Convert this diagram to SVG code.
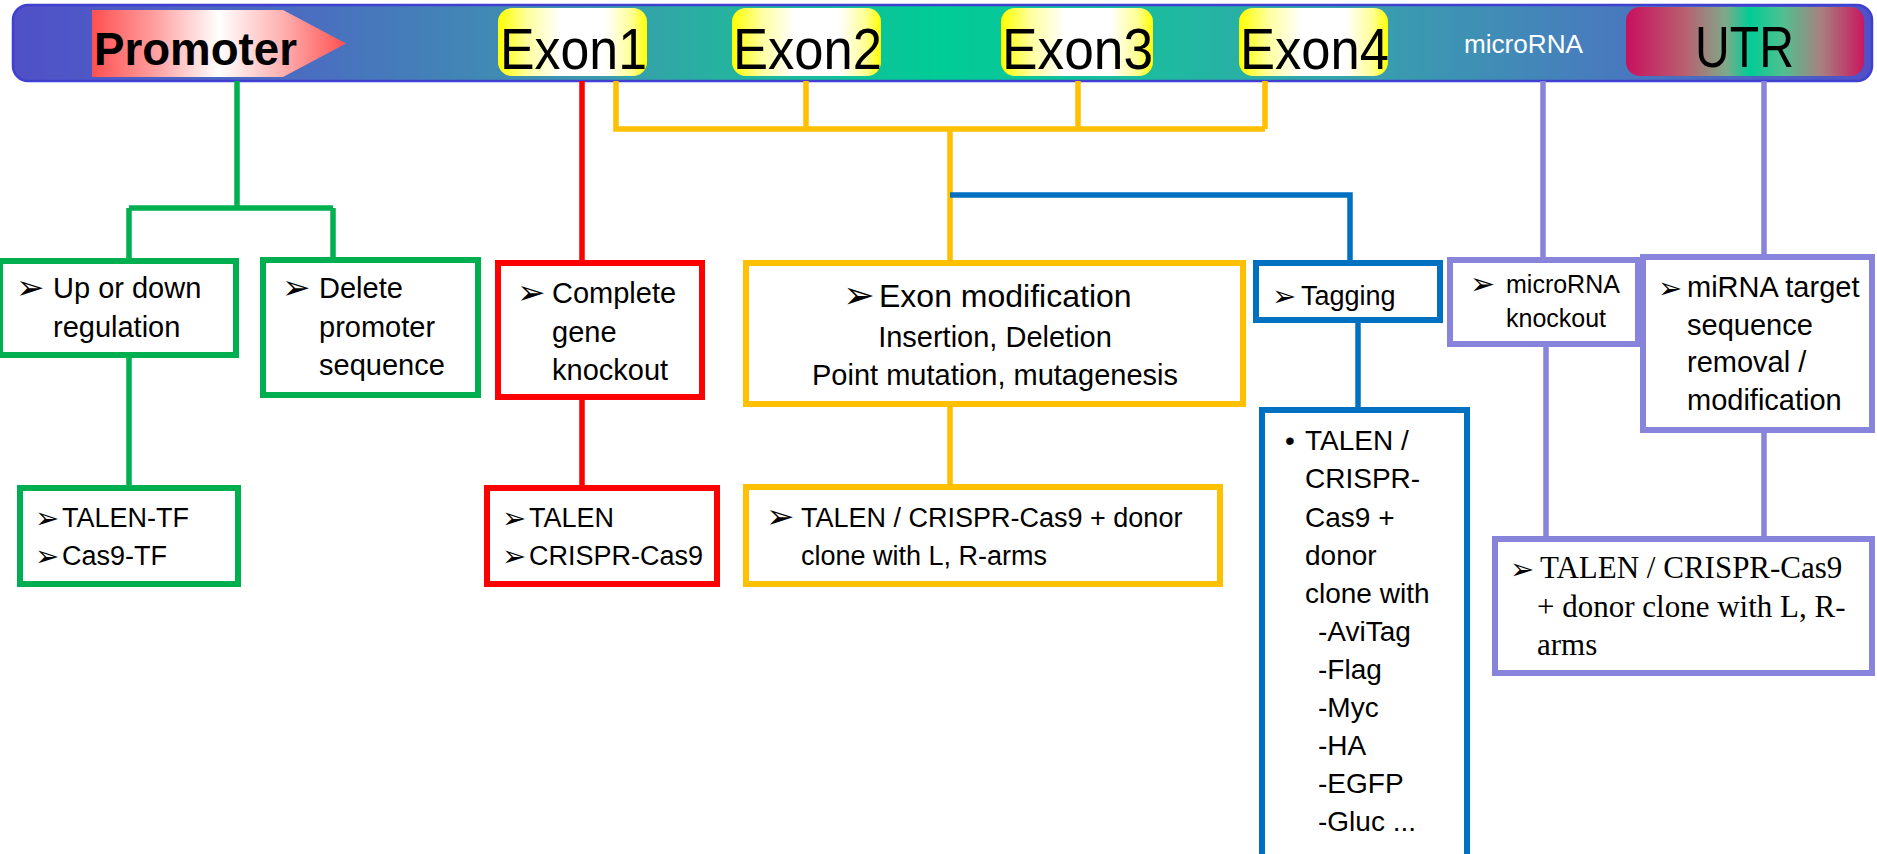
<svg xmlns="http://www.w3.org/2000/svg" width="1877" height="854" viewBox="0 0 1877 854">
<defs>
<linearGradient id="barG" x1="0" y1="0" x2="1" y2="0">
<stop offset="0" stop-color="#5050c8"/>
<stop offset="0.16" stop-color="#4a6ec0"/>
<stop offset="0.32" stop-color="#3a9cac"/>
<stop offset="0.38" stop-color="#26b2a0"/>
<stop offset="0.5" stop-color="#00cc96"/>
<stop offset="0.62" stop-color="#1ebaa0"/>
<stop offset="0.72" stop-color="#36a2ac"/>
<stop offset="0.84" stop-color="#4680bc"/>
<stop offset="0.9" stop-color="#4a6ec0"/>
<stop offset="1" stop-color="#5050c8"/>
</linearGradient>
<linearGradient id="promG" x1="0" y1="0" x2="1" y2="0">
<stop offset="0" stop-color="#ff5050"/>
<stop offset="0.25" stop-color="#ffa0a0"/>
<stop offset="0.5" stop-color="#ffffff"/>
<stop offset="0.75" stop-color="#ffb0b0"/>
<stop offset="1" stop-color="#ff5050"/>
</linearGradient>
<linearGradient id="exonG" x1="0" y1="0" x2="1" y2="0">
<stop offset="0" stop-color="#ffff00"/>
<stop offset="0.2" stop-color="#ffffa0"/>
<stop offset="0.42" stop-color="#ffffff"/>
<stop offset="0.72" stop-color="#ffffff"/>
<stop offset="0.9" stop-color="#ffff90"/>
<stop offset="1" stop-color="#ffff00"/>
</linearGradient>
<linearGradient id="utrG" x1="0" y1="0" x2="1" y2="0">
<stop offset="0" stop-color="#c8105e"/>
<stop offset="0.25" stop-color="#b86070"/>
<stop offset="0.42" stop-color="#7eaa8a"/>
<stop offset="0.52" stop-color="#00cc96"/>
<stop offset="0.66" stop-color="#50c090"/>
<stop offset="0.82" stop-color="#a88080"/>
<stop offset="1" stop-color="#c8185e"/>
</linearGradient>
<style>
.box{fill:#ffffff;stroke-width:6}
.g{stroke:#00b050}.r{stroke:#ff0000}.y{stroke:#ffc000}.b{stroke:#0070c0}.p{stroke:#8884dc}
.cn{fill:none;stroke-width:5.5}
.t{font-family:"Liberation Sans",Arial,sans-serif;fill:#000}
.tm{font-family:"Liberation Serif","Times New Roman",serif;fill:#000}
.ar{font-family:"DejaVu Sans",sans-serif;fill:#000;font-size:34px}
.ars{font-family:"DejaVu Sans",sans-serif;fill:#000;font-size:29px}
.big{font-family:"Liberation Sans",Arial,sans-serif;fill:#000;font-size:57px}
</style>
</defs>

<g id="gene-bar">
<rect x="13" y="5" width="1859" height="76" rx="15" fill="url(#barG)" stroke="#4040d0" stroke-width="2.5"/>
</g>
<g id="promoter">
<polygon points="92,10 283,10 346,43.5 283,77 92,77" fill="url(#promG)"/>
<text x="94" y="65" class="t" font-size="47" font-weight="bold" textLength="203" lengthAdjust="spacingAndGlyphs">Promoter</text>
</g>
<g id="exon1">
<rect x="498" y="8" width="149" height="68" rx="14" fill="url(#exonG)"/>
<text x="500" y="69" class="big" textLength="147" lengthAdjust="spacingAndGlyphs">Exon1</text>
</g>
<g id="exon2">
<rect x="732" y="8" width="149" height="68" rx="14" fill="url(#exonG)"/>
<text x="733" y="69" class="big" textLength="149" lengthAdjust="spacingAndGlyphs">Exon2</text>
</g>
<g id="exon3">
<rect x="1001" y="8" width="152" height="68" rx="14" fill="url(#exonG)"/>
<text x="1002" y="69" class="big" textLength="151" lengthAdjust="spacingAndGlyphs">Exon3</text>
</g>
<g id="exon4">
<rect x="1239" y="8" width="149" height="68" rx="14" fill="url(#exonG)"/>
<text x="1240" y="69" class="big" textLength="149" lengthAdjust="spacingAndGlyphs">Exon4</text>
</g>
<g id="microrna-label">
<text x="1464" y="53" class="t" font-size="26" style="fill:#ffffff" textLength="119" lengthAdjust="spacingAndGlyphs">microRNA</text>
</g>
<g id="utr">
<rect x="1626" y="7" width="238" height="69" rx="14" fill="url(#utrG)"/>
<text x="1695" y="67" class="t" font-size="58" textLength="99" lengthAdjust="spacingAndGlyphs">UTR</text>
</g>

<g id="connectors">
<path class="cn g" d="M237,81 V208 M129,208 H333 M129,208 V258 M333,208 V258 M129,358 V485"/>
<path class="cn r" d="M582,81 V260 M582,400 V485"/>
<path class="cn y" d="M616,81 V129 H1265 M806,81 V129 M1078,81 V129 M1265,81 V129 M950,129 V260 M950,407 V484"/>
<path class="cn b" d="M950,195 H1350 V260 M1358,323 V407"/>
<path class="cn p" d="M1543,81 V257 M1764,81 V254 M1546,347 V536 M1764,430 V536"/>
</g>

<g id="up-down-regulation">
<rect class="box g" x="0" y="261" width="236" height="94"/>
<text x="16" y="299" class="ar">➢</text>
<text class="t" font-size="29"><tspan x="53" y="298">Up or down</tspan><tspan x="53" y="337">regulation</tspan></text>
</g>
<g id="delete-promoter">
<rect class="box g" x="263" y="260" width="215" height="135"/>
<text x="282" y="299" class="ar">➢</text>
<text class="t" font-size="29"><tspan x="319" y="298">Delete</tspan><tspan x="319" y="337">promoter</tspan><tspan x="319" y="375">sequence</tspan></text>
</g>
<g id="talen-tf">
<rect class="box g" x="20" y="488" width="218" height="96"/>
<text x="35" y="528" class="ars">➢</text>
<text x="35" y="566" class="ars">➢</text>
<text class="t" font-size="27"><tspan x="62" y="527">TALEN-TF</tspan><tspan x="62" y="565">Cas9-TF</tspan></text>
</g>
<g id="complete-knockout">
<rect class="box r" x="498" y="263" width="204" height="134"/>
<text x="517" y="304" class="ar">➢</text>
<text class="t" font-size="29"><tspan x="552" y="303">Complete</tspan><tspan x="552" y="342">gene</tspan><tspan x="552" y="380">knockout</tspan></text>
</g>
<g id="talen-crispr">
<rect class="box r" x="487" y="488" width="230" height="96"/>
<text x="502" y="528" class="ars">➢</text>
<text x="502" y="566" class="ars">➢</text>
<text class="t" font-size="27"><tspan x="529" y="527">TALEN</tspan><tspan x="529" y="565">CRISPR-Cas9</tspan></text>
</g>
<g id="exon-modification">
<rect class="box y" x="746" y="263" width="497" height="141"/>
<text x="843" y="308" class="ar" style="font-size:38px">➢</text>
<text x="879" y="307" class="t" font-size="32">Exon modification</text>
<text class="t" font-size="29" text-anchor="middle"><tspan x="995" y="347">Insertion, Deletion</tspan><tspan x="995" y="385">Point mutation, mutagenesis</tspan></text>
</g>
<g id="exon-donor">
<rect class="box y" x="746" y="487" width="474" height="97"/>
<text x="766" y="528" class="ar">➢</text>
<text class="t" font-size="27"><tspan x="801" y="527">TALEN / CRISPR-Cas9 + donor</tspan><tspan x="801" y="565">clone with L, R-arms</tspan></text>
</g>
<g id="tagging">
<rect class="box b" x="1256" y="263" width="184" height="57"/>
<text x="1272" y="306" class="ars">➢</text>
<text x="1301" y="305" class="t" font-size="27">Tagging</text>
</g>
<g id="tag-donor">
<rect class="box b" x="1262" y="410" width="205" height="460"/>
<text x="1285" y="450" class="t" font-size="28">•</text>
<text class="t" font-size="28"><tspan x="1305" y="450">TALEN /</tspan><tspan x="1305" y="488">CRISPR-</tspan><tspan x="1305" y="527">Cas9 +</tspan><tspan x="1305" y="565">donor</tspan><tspan x="1305" y="603">clone with</tspan><tspan x="1318" y="641">-AviTag</tspan><tspan x="1318" y="679">-Flag</tspan><tspan x="1318" y="717">-Myc</tspan><tspan x="1318" y="755">-HA</tspan><tspan x="1318" y="793">-EGFP</tspan><tspan x="1318" y="831">-Gluc ...</tspan></text>
</g>
<g id="microrna-knockout">
<rect class="box p" x="1450" y="260" width="188" height="84"/>
<text x="1470" y="294" class="ar" style="font-size:30px">➢</text>
<text class="t" font-size="25"><tspan x="1506" y="293">microRNA</tspan><tspan x="1506" y="327">knockout</tspan></text>
</g>
<g id="mirna-target">
<rect class="box p" x="1643" y="257" width="229" height="173"/>
<text x="1658" y="298" class="ars">➢</text>
<text class="t" font-size="29"><tspan x="1687" y="297">miRNA target</tspan><tspan x="1687" y="335">sequence</tspan><tspan x="1687" y="372">removal /</tspan><tspan x="1687" y="410">modification</tspan></text>
</g>
<g id="utr-donor">
<rect class="box p" x="1495" y="539" width="377" height="134"/>
<text x="1510" y="579" class="ars">➢</text>
<text class="tm" font-size="31"><tspan x="1540" y="578">TALEN / CRISPR-Cas9</tspan><tspan x="1537" y="617">+ donor clone with L, R-</tspan><tspan x="1537" y="655">arms</tspan></text>
</g>
</svg>
